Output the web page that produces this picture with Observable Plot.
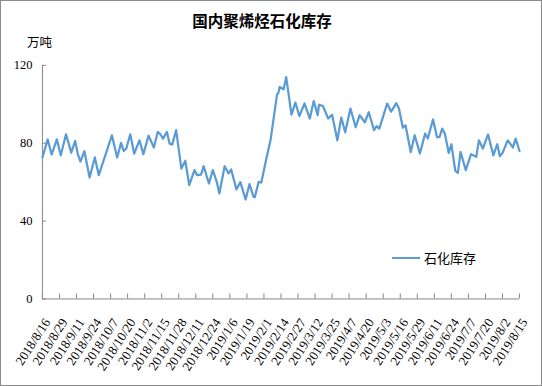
<!DOCTYPE html>
<html>
<head>
<meta charset="utf-8">
<script src="https://cdn.jsdelivr.net/npm/d3@7"></script>
<script src="https://cdn.jsdelivr.net/npm/@observablehq/plot@0.6"></script>
<style>
html, body { margin: 0; padding: 0; background: #fff; }
#wrap { position: relative; width: 542px; height: 386px; box-sizing: border-box; border: 1px solid #8a8a8a; overflow: hidden; background: #fff; }
#chart { position: absolute; left: -1px; top: -1px; }
#title { position: absolute; left: 0; width: 522px; top: 8px; text-align: center; font-family: "Noto Sans CJK SC", sans-serif; font-weight: bold; font-size: 15.5px; color: #000; line-height: 22px; }
#unit { position: absolute; left: 26px; top: 32px; font-family: "Noto Sans CJK SC", sans-serif; font-size: 12.5px; color: #000; line-height: 18px; }
#legend { position: absolute; left: 391px; top: 248px; font-family: "Noto Sans CJK SC", sans-serif; font-size: 13px; color: #000; line-height: 18px; display: flex; align-items: center; }
#legend .sw { display: inline-block; width: 28px; height: 2.5px; background: #5B9BD5; margin-right: 4px; }
</style>
</head>
<body>
<div id="wrap">
  <div id="chart"></div>
  <div id="title"></div>
  <div id="unit"></div>
  <div id="legend"><span class="sw"></span><span id="legtext"></span></div>
</div>
<script>
const chartTitle = "国内聚烯烃石化库存";
const unitLabel = "万吨";
const seriesName = "石化库存";

const dates = [
  "2018-08-16","2018-08-20","2018-08-23","2018-08-27","2018-08-30","2018-09-03","2018-09-07","2018-09-10","2018-09-12","2018-09-14",
  "2018-09-17","2018-09-21","2018-09-25","2018-09-28","2018-10-08","2018-10-12","2018-10-15","2018-10-17","2018-10-19","2018-10-22",
  "2018-10-25","2018-10-29","2018-11-01","2018-11-05","2018-11-09","2018-11-12","2018-11-14","2018-11-16","2018-11-19","2018-11-21",
  "2018-11-23","2018-11-26","2018-11-30","2018-12-03","2018-12-06","2018-12-10","2018-12-12","2018-12-15","2018-12-17","2018-12-21",
  "2018-12-24","2018-12-27","2018-12-29","2019-01-02","2019-01-05","2019-01-07","2019-01-11","2019-01-14","2019-01-18","2019-01-21",
  "2019-01-24","2019-01-25","2019-01-28","2019-01-30","2019-02-03","2019-02-06","2019-02-11","2019-02-12","2019-02-13","2019-02-16",
  "2019-02-18","2019-02-22","2019-02-25","2019-02-28","2019-03-04","2019-03-08","2019-03-11","2019-03-14","2019-03-15","2019-03-18",
  "2019-03-22","2019-03-25","2019-03-29","2019-04-01","2019-04-04","2019-04-08","2019-04-12","2019-04-15","2019-04-19","2019-04-22",
  "2019-04-26","2019-04-28","2019-04-30","2019-05-06","2019-05-09","2019-05-13","2019-05-15","2019-05-18","2019-05-20","2019-05-24",
  "2019-05-27","2019-05-31","2019-06-04","2019-06-06","2019-06-10","2019-06-13","2019-06-15","2019-06-17","2019-06-19","2019-06-22",
  "2019-06-24","2019-06-27","2019-06-29","2019-07-01","2019-07-05","2019-07-09","2019-07-13","2019-07-15","2019-07-18","2019-07-22",
  "2019-07-26","2019-07-29","2019-07-31","2019-08-02","2019-08-06","2019-08-10","2019-08-12","2019-08-15"
];

const values = [
  72.7, 82.0, 74.2, 82.0, 73.8, 84.6, 75.2, 81.2, 74.4, 70.6,
  75.9, 62.4, 72.7, 63.6, 84.1, 72.7, 80.2, 76.0, 77.3, 84.6,
  74.7, 81.5, 74.4, 83.9, 77.8, 85.8, 84.6, 82.4, 85.8, 79.8,
  79.3, 86.7, 67.0, 71.0, 58.5, 66.2, 63.6, 63.9, 68.2, 59.3,
  66.2, 60.2, 54.2, 68.2, 64.5, 66.5, 56.3, 60.0, 51.1, 59.0,
  52.5, 52.2, 60.2, 59.8, 72.5, 81.5, 105.0, 105.8, 108.9, 107.7,
  114.0, 94.7, 100.9, 94.0, 100.4, 92.7, 101.7, 94.4, 99.8, 99.1,
  92.7, 94.6, 81.5, 93.2, 85.6, 97.8, 88.2, 94.4, 90.8, 95.9,
  86.7, 88.8, 87.5, 100.4, 96.2, 100.6, 97.8, 88.0, 89.2, 75.5,
  84.1, 74.7, 85.0, 82.4, 92.2, 83.2, 83.2, 87.5, 85.0, 75.0,
  79.5, 65.8, 64.8, 75.5, 66.2, 74.4, 73.0, 81.5, 77.3, 84.5,
  73.8, 79.5, 73.3, 75.0, 81.5, 77.8, 82.4, 76.0
];

const tickLabels = [
  "2018/8/16","2018/8/29","2018/9/11","2018/9/24","2018/10/7","2018/10/20","2018/11/2","2018/11/15",
  "2018/11/28","2018/12/11","2018/12/24","2019/1/6","2019/1/19","2019/2/1","2019/2/14","2019/2/27",
  "2019/3/12","2019/3/25","2019/4/7","2019/4/20","2019/5/3","2019/5/16","2019/5/29","2019/6/11",
  "2019/6/24","2019/7/7","2019/7/20","2019/8/2","2019/8/15"
];

const yTicks = [0, 40, 80, 120];

const parseData = d3.utcParse("%Y-%m-%d");
const parseTick = d3.utcParse("%Y/%m/%d");
const fmtTick = d3.utcFormat("%Y/%-m/%-d");

const data = dates.map((d, i) => ({date: parseData(d), value: values[i]}));
const tickDates = tickLabels.map(parseTick);

const axisColor = "#868686";
const lineColor = "#5B9BD5";

const chart = Plot.plot({
  width: 542,
  height: 386,
  marginLeft: 42,
  marginRight: 22,
  marginTop: 65,
  marginBottom: 87,
  style: {background: "transparent", overflow: "visible"},
  x: {type: "utc", domain: [tickDates[0], tickDates[tickDates.length - 1]]},
  y: {domain: [0, 120]},
  marks: [
    Plot.ruleX([tickDates[0]], {stroke: axisColor, strokeWidth: 1}),
    Plot.ruleY([0], {stroke: axisColor, strokeWidth: 1}),
    Plot.axisY({ticks: yTicks, tickSize: -4, fill: "none", stroke: axisColor, label: null}),
    Plot.axisY({ticks: yTicks, tickSize: 0, tickPadding: 10, label: null, fill: "#000",
      fontFamily: "Liberation Serif, serif", fontSize: 12.5}),
    Plot.axisX({ticks: tickDates, tickSize: -5, fill: "none", stroke: axisColor, label: null}),
    Plot.axisX({ticks: tickDates, tickSize: 0, tickPadding: 21, dx: 5, tickRotate: -57,
      tickFormat: fmtTick, label: null, fill: "#000",
      fontFamily: "Liberation Serif, serif", fontSize: 13, style: {letterSpacing: "0.9px"}}),
    Plot.line(data, {x: "date", y: "value", stroke: lineColor, strokeWidth: 2.25, curve: "linear"})
  ]
});

document.getElementById("chart").appendChild(chart);
document.getElementById("title").textContent = chartTitle;
document.getElementById("unit").textContent = unitLabel;
document.getElementById("legtext").textContent = seriesName;
</script>
</body>
</html>
